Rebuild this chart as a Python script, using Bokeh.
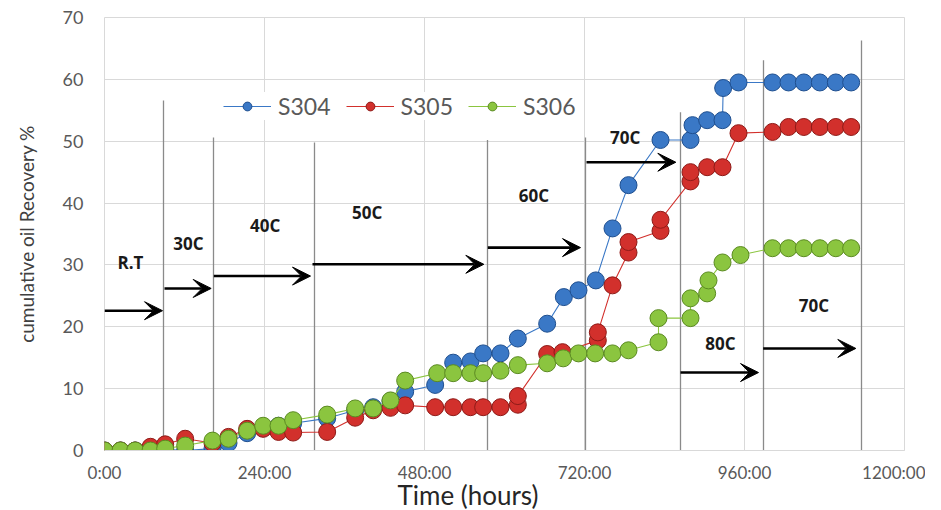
from bokeh.plotting import figure
from bokeh.models import (FixedTicker, Arrow, VeeHead, LabelSet, Legend, Title,
                          LegendItem, ColumnDataSource, Range1d)
from bokeh.core.properties import value
from bokeh.embed import file_html
from bokeh.resources import INLINE

# ---- data (time in hours, cumulative oil recovery %) ----
t_s304 = [0, 24, 46, 69, 91, 121, 162, 186, 214, 238, 261, 283, 334, 376, 403, 429, 451,
          496, 523, 549, 568, 594, 620, 664, 689, 711, 737, 762, 786, 834, 879, 882, 904,
          927, 928, 951, 1002, 1026, 1049, 1073, 1097, 1120]
v_s304 = [0, 0, 0, 0, 0.2, 0, 0.3, 1.2, 2.8, 3.6, 4.0, 4.4, 5.2, 6.5, 7.0, 8.0, 9.5,
          10.6, 14.2, 14.4, 15.7, 15.7, 18.1, 20.5, 24.8, 25.9, 27.5, 35.9, 42.9, 50.2, 50.2, 52.6, 53.4,
          53.4, 58.6, 59.5, 59.5, 59.5, 59.5, 59.5, 59.5, 59.5]

t_s305 = [0, 24, 46, 69, 91, 121, 162, 186, 214, 238, 261, 283, 334, 376, 403, 429, 451,
          496, 523, 549, 568, 594, 620, 620, 664, 687, 740, 740, 762, 786, 786, 834, 834,
          879, 879, 904, 927, 951, 1002, 1026, 1049, 1073, 1097, 1120]
v_s305 = [0, 0, 0, 0.6, 1.0, 1.9, 1.2, 2.2, 3.5, 3.5, 3.0, 2.9, 3.0, 5.3, 6.5, 6.9, 7.3,
          7.0, 7.0, 7.0, 7.0, 7.0, 7.4, 8.8, 15.6, 15.9, 17.8, 19.1, 26.7, 32.0, 33.7, 35.5, 37.3,
          43.5, 45.0, 45.8, 45.8, 51.3, 51.5, 52.3, 52.3, 52.3, 52.3, 52.3]

t_s306 = [0, 24, 46, 69, 91, 121, 162, 186, 214, 238, 261, 283, 334, 376, 403, 429, 451,
          499, 523, 549, 568, 594, 620, 664, 688, 711, 736, 762, 786, 831, 831, 879, 879,
          904, 906, 927, 954, 1002, 1026, 1049, 1073, 1097, 1120]
v_s306 = [0, 0, 0, 0, 0.3, 0.8, 1.6, 1.9, 3.2, 4.0, 4.0, 4.9, 5.8, 6.8, 6.8, 8.1, 11.3,
          12.5, 12.5, 12.5, 12.5, 12.9, 13.8, 14.1, 14.9, 15.7, 15.7, 15.7, 16.2, 17.5, 21.4, 21.4, 24.6,
          25.4, 27.5, 30.4, 31.6, 32.7, 32.7, 32.7, 32.7, 32.7, 32.7]

series_names = ["S304", "S305", "S306"]

# temperature stage boundaries (hours) and the heights of their marker lines (%)
stage_x = [88.5, 163.5, 315, 574.5, 721.5, 864, 988.5, 1135.5]
stage_top = [56.6, 50.6, 49.8, 50.2, 50.6, 54.7, 63.1, 66.3]

# stage arrows and labels
stage_labels = ["R.T", "30C", "40C", "50C", "60C", "70C", "80C", "70C"]
arrow_x0 = [0, 90, 164, 312, 575, 723, 864, 988]
arrow_x1 = [87, 160, 309, 569, 714, 857, 981, 1127]
arrow_y = [22.6, 26.2, 28.2, 30.1, 32.8, 46.6, 12.6, 16.5]
label_x = [39, 126, 241, 394, 644, 781, 924, 1064]
label_y = [30.4, 33.5, 36.4, 38.5, 41.3, 50.6, 17.3, 23.5]

x_ticks = [0, 240, 480, 720, 960, 1200]
x_tick_labels = ["0:00", "240:00", "480:00", "720:00", "960:00", "1200:00"]
y_ticks = [0, 10, 20, 30, 40, 50, 60, 70]

FONT = "Lato"
BOLD_FONT = "Open Sans"
GRID = "#d9d9d9"

p = figure(width=925, height=510, x_range=Range1d(0, 1200), y_range=Range1d(0, 70),
           output_backend="svg", toolbar_location=None,
           min_border_left=104, min_border_right=21, min_border_top=17, min_border_bottom=60)
p.outline_line_color = GRID
p.background_fill_color = "white"
p.border_fill_color = "white"

p.xaxis.ticker = FixedTicker(ticks=x_ticks)
p.xaxis.major_label_overrides = {t: s for t, s in zip(x_ticks, x_tick_labels)}
p.yaxis.ticker = FixedTicker(ticks=y_ticks)
for ax in (p.xaxis, p.yaxis):
    ax.major_tick_line_color = None
    ax.minor_tick_line_color = None
    ax.major_label_text_font = FONT
    ax.major_label_text_color = "#595959"
p.xaxis.major_label_text_font_size = "17px"
p.yaxis.major_label_text_font_size = "18px"
p.xaxis.axis_line_color = GRID
p.yaxis.axis_line_color = None
p.xaxis.major_label_standoff = 5
p.yaxis.major_label_standoff = 15
p.yaxis.axis_label = "cumulative oil Recovery %"
p.yaxis.axis_label_text_font = FONT
p.yaxis.axis_label_text_font_size = "19px"
p.yaxis.axis_label_text_font_style = "normal"
p.yaxis.axis_label_text_color = "#404040"
p.yaxis.axis_label_standoff = 22
p.xgrid.grid_line_color = GRID
p.ygrid.grid_line_color = GRID
p.xgrid.ticker = FixedTicker(ticks=x_ticks)
p.ygrid.ticker = FixedTicker(ticks=y_ticks)

# stage boundary lines
p.segment(x0=stage_x, y0=[0] * len(stage_x), x1=stage_x, y1=stage_top,
          line_color="#8a8a8a", line_width=1.3)

# series
colors = ["#3a78c6", "#d2302c", "#8bc53f"]
edges = ["#1f4f8f", "#8e1a17", "#5b8a22"]
items = []
for name, t, v, c, e in zip(series_names, [t_s304, t_s305, t_s306],
                            [v_s304, v_s305, v_s306], colors, edges):
    src = ColumnDataSource(dict(t=t, v=v))
    ln = p.line("t", "v", source=src, line_color=c, line_width=1.1)
    sc = p.scatter("t", "v", source=src, size=17, fill_color=c, line_color=e, line_width=1)
    items.append(LegendItem(label=name, renderers=[ln, sc]))

legend = Legend(items=items, orientation="horizontal", location=(119, 330),
                background_fill_color="white", background_fill_alpha=1.0,
                border_line_color=None, label_text_font=FONT, label_text_font_size="23px",
                label_text_color="#595959", glyph_width=48, glyph_height=22,
                spacing=15, padding=4, margin=0, label_standoff=7)
p.add_layout(legend)

# arrows
asrc = ColumnDataSource(dict(x0=arrow_x0, x1=arrow_x1, y=arrow_y))
p.add_layout(Arrow(end=VeeHead(size=18, fill_color="black", line_color="black"),
                   x_start="x0", y_start="y", x_end="x1", y_end="y", source=asrc,
                   line_color="black", line_width=2.6))

lsrc = ColumnDataSource(dict(x=label_x, y=label_y, text=stage_labels))
p.add_layout(LabelSet(x="x", y="y", text="text", source=lsrc, text_align="center",
                      text_baseline="middle", text_font=value(BOLD_FONT),
                      text_font_style="bold", text_font_size="17px", text_color="#1a1a1a"))

p.add_layout(Title(text="Time (hours)", align="left", offset=293, text_font=FONT,
                   text_font_size="26px", text_font_style="normal", text_color="#262626",
                   standoff=-17), "below")

open("out.html", "w").write(file_html(p, INLINE))
